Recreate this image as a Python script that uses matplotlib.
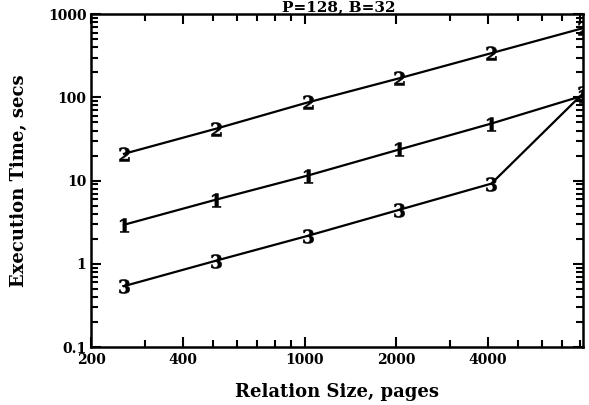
import matplotlib.pyplot as plt
import numpy as np

# Relation sizes (pages) and execution times (secs)
sizes = [256, 512, 1024, 2048, 4096, 8192]
time_1 = [2.95, 5.9, 11.5, 23.7, 48.5, 105]
time_2 = [21, 42, 87, 170, 340, 680]
time_3 = [0.54, 1.09, 2.17, 4.47, 9.2, 112]

xticks = [200, 400, 1000, 2000, 4000]
yticks = [0.1, 1, 10, 100, 1000]

plt.rcParams['font.family'] = 'DejaVu Serif'
plt.rcParams['font.weight'] = 'bold'
plt.rcParams['mathtext.fontset'] = 'dejavuserif'

fig = plt.figure(figsize=(5.89, 4.05), dpi=100)
ax = fig.add_axes([0.155, 0.143, 0.835, 0.822])

for vals, lab in [(time_1, '1'), (time_2, '2'), (time_3, '3')]:
    ax.plot(sizes, vals, color='black', linewidth=1.6,
            marker='$\\mathbf{' + lab + '}$', markersize=10, markeredgewidth=0.4)

ax.set_xscale('log')
ax.set_yscale('log')
ax.set_xlim(200, 8192)
ax.set_ylim(0.1, 1000)

ax.set_xticks(xticks)
ax.set_xticklabels([str(t) for t in xticks], fontsize=10, fontweight='bold')
ax.set_yticks(yticks)
ax.set_yticklabels(['0.1', '1', '10', '100', '1000'], fontsize=10, fontweight='bold')
ax.tick_params(which='both', direction='in', top=True, right=True, width=1.5)
ax.tick_params(which='major', length=7)
ax.tick_params(which='minor', length=5)
ax.tick_params(axis='x', pad=4)
for sp in ax.spines.values():
    sp.set_linewidth(1.8)

ax.set_xlabel('Relation Size, pages', fontsize=13, fontweight='bold', labelpad=12)
ax.set_ylabel('Execution Time, secs', fontsize=13, fontweight='bold', labelpad=14)

# title sits right at the top edge, as in the scan
fig.text(0.575, 0.972, 'P=128, B=32', ha='center', va='baseline',
         fontsize=11, fontweight='bold')

fig.savefig('out.png', dpi=100)
